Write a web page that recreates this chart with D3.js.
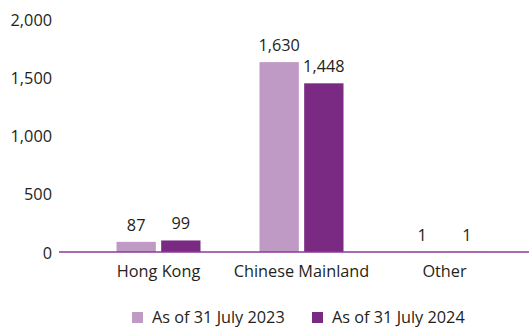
<!DOCTYPE html>
<html lang="en">
<head>
    <meta charset="UTF-8">
    <title>Chart</title>
    <script src="https://d3js.org/d3.v7.min.js"></script>
    <style>
        body {
            margin: 0;
            padding: 0;
            background: #ffffff;
        }
        svg text {
            font-family: 'Open Sans', Arial, sans-serif;
            fill: #231f20;
            font-size: 16.3px;
        }
    </style>
</head>
<body>
    <div id="chart"></div>
    <script>
        const categories = ["Hong Kong", "Chinese Mainland", "Other"];
        const seriesNames = ["As of 31 July 2023", "As of 31 July 2024"];
        const values2023 = [87, 1630, 1];
        const values2024 = [99, 1448, 1];
        const yTicks = [0, 500, 1000, 1500, 2000];

        const colors = ["#bf9ac5", "#7b2a84"];
        const W = 529, H = 328;

        const svg = d3.select("#chart").append("svg")
            .attr("width", W)
            .attr("height", H);

        const x = d3.scaleBand().domain(categories).range([87, 516]).padding(0);
        const xs = d3.scaleBand().domain(seriesNames).range([0, 84]).paddingInner(0.12);
        const y = d3.scaleLinear().domain([0, 2000]).range([252, 19]);

        // y axis labels, no axis line
        const yAxis = svg.append("g")
            .attr("transform", "translate(52,0)")
            .call(d3.axisLeft(y).tickValues(yTicks).tickSize(0).tickPadding(0).tickFormat(d3.format(",")));
        yAxis.select(".domain").remove();
        yAxis.selectAll("text").attr("dy", "0.38em");
        yAxis.attr("font-size", null).attr("font-family", null);

        const series = [values2023, values2024];
        const groups = svg.append("g");
        series.forEach((vals, si) => {
            const g = groups.selectAll(".bar" + si).data(categories).enter();
            g.append("rect")
                .attr("x", d => x(d) + x.bandwidth() / 2 - 42 + xs(seriesNames[si]))
                .attr("y", (d, i) => y(vals[i]))
                .attr("width", xs.bandwidth())
                .attr("height", (d, i) => y(0) - y(vals[i]))
                .attr("fill", colors[si]);
            g.append("text")
                .attr("x", d => x(d) + x.bandwidth() / 2 - 42 + xs(seriesNames[si]) + xs.bandwidth() / 2)
                .attr("y", (d, i) => y(vals[i]) - 11)
                .attr("text-anchor", "middle")
                .text((d, i) => d3.format(",")(vals[i]));
        });

        // baseline
        svg.append("line")
            .attr("x1", 59).attr("x2", W)
            .attr("y1", y(0)).attr("y2", y(0))
            .attr("stroke", "#8b3a96")
            .attr("stroke-width", 1.5);

        // category labels
        const xAxis = svg.append("g")
            .attr("transform", `translate(0,${y(0)})`)
            .call(d3.axisBottom(x).tickSize(0).tickPadding(13));
        xAxis.select(".domain").remove();
        xAxis.attr("font-size", null).attr("font-family", null);

        // legend
        const legendX = [132, 312];
        const legend = svg.append("g");
        seriesNames.forEach((name, i) => {
            legend.append("rect")
                .attr("x", legendX[i]).attr("y", 312)
                .attr("width", 11).attr("height", 11)
                .attr("fill", colors[i]);
            legend.append("text")
                .attr("x", legendX[i] + 20).attr("y", 323)
                .text(name);
        });
    </script>
</body>
</html>
